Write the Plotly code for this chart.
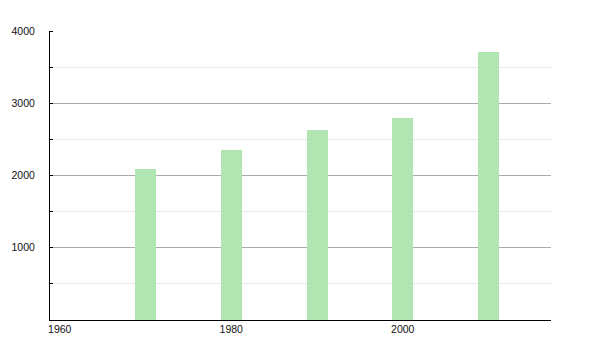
import plotly.graph_objects as go

years = [1970, 1980, 1990, 2000, 2010]
population = [2090, 2353, 2630, 2792, 3709]
x_ticks = [1960, 1980, 2000]
y_ticks = [1000, 2000, 3000, 4000]

fig = go.Figure()
fig.add_trace(go.Bar(
    x=years, y=population, width=2.45,
    marker=dict(color="#b1e5b1", line=dict(width=0)),
    hoverinfo="x+y",
))

fig.update_layout(
    width=600, height=350,
    margin=dict(l=50, r=49, t=31, b=30),
    paper_bgcolor="white", plot_bgcolor="white",
    font=dict(family="Liberation Sans, Arial, sans-serif", size=10.5, color="#111111"),
    showlegend=False,
    bargap=0,
)
fig.update_xaxes(
    range=[1958.86, 2017.29], automargin=False,
    tickmode="array", tickvals=x_ticks, ticktext=[str(v) for v in x_ticks],
    tickfont=dict(color="#111111"),
    showgrid=False, zeroline=False,
    showline=True, linecolor="black", linewidth=1,
    ticks="", ticklen=0, ticklabelstandoff=-1,
)
fig.update_yaxes(
    range=[0, 4000], automargin=False,
    tickmode="array", tickvals=y_ticks, ticktext=[str(v) for v in y_ticks],
    tickfont=dict(color="#111111"),
    showgrid=True, gridcolor="#aaaaaa", gridwidth=1,
    zeroline=False,
    showline=True, linecolor="black", linewidth=1,
    ticks="", ticklabelstandoff=12,
    minor=dict(dtick=500, tick0=0, showgrid=True, gridcolor="#e8e8e8", gridwidth=1,
               ticks="inside", ticklen=3, tickcolor="black"),
)

fig.write_html("out.html")
